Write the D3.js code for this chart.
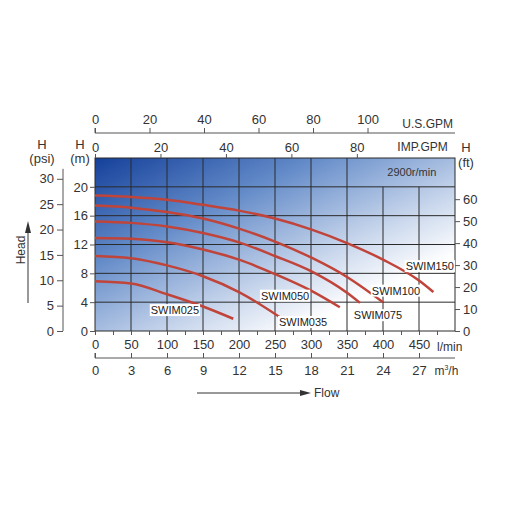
<!DOCTYPE html>
<html><head><meta charset="utf-8">
<script src="https://d3js.org/d3.v7.min.js"></script>
<style>body{margin:0;background:#fff}text{font-family:"Liberation Sans",Arial,sans-serif}</style>
</head><body><svg id="c" width="515" height="515"></svg>
<script>
const flowLpm=[0,50,100,150,200,250,300,350,400,450,470];
const swim025=[[0,6.9],[50,6.6],[100,5.1],[150,3.4],[192,1.7]];
const swim035=[[0,10.4],[50,10.1],[100,9.1],[150,7.6],[200,5.4],[260,1.7]];
const swim050=[[0,12.9],[50,12.8],[100,12.3],[150,11.3],[200,9.9],[250,7.9],[300,5.6],[340,3.3]];
const swim075=[[0,15.2],[50,15.0],[100,14.5],[150,13.6],[200,12.3],[250,10.4],[300,8.3],[350,5.3],[368,3.9]];
const swim100=[[0,17.4],[50,17.1],[100,16.5],[150,15.6],[200,14.2],[250,12.4],[300,10.2],[350,7.5],[400,4.0]];
const swim150=[[0,18.8],[50,18.6],[100,18.2],[150,17.5],[200,16.7],[250,15.6],[300,14.1],[350,12.2],[400,9.9],[450,7.0],[470,5.4]];
const seriesNames=["SWIM025","SWIM035","SWIM050","SWIM075","SWIM100","SWIM150"];
const series=[swim025,swim035,swim050,swim075,swim100,swim150];
const labelPos=[[111,2.9],[289,1.25],[264,4.9],[393,2.2],[418,5.6],[465,9.0]];
const lpmTicks=[0,50,100,150,200,250,300,350,400,450];
const m3hTicks=[0,3,6,9,12,15,18,21,24,27];
const usgpmTicks=[0,20,40,60,80,100];
const impgpmTicks=[0,20,40,60,80];
const mTicks=[0,4,8,12,16,20];
const psiTicks=[0,5,10,15,20,25,30];
const ftTicks=[0,10,20,30,40,50,60];

const svg=d3.select("#c");
const x=d3.scaleLinear().domain([0,500]).range([95,455]);
const y=d3.scaleLinear().domain([0,24]).range([331,158]);
const defs=svg.append("defs");
const g=defs.append("linearGradient").attr("id","bg").attr("x1","0").attr("y1","0").attr("x2","1").attr("y2","1");
g.append("stop").attr("offset","0").attr("stop-color","#14409a");
g.append("stop").attr("offset","0.3").attr("stop-color","#628ac8");
g.append("stop").attr("offset","0.6").attr("stop-color","#c8d6ec");
g.append("stop").attr("offset","0.78").attr("stop-color","#ffffff");
svg.append("rect").attr("x",x(0)).attr("y",y(24)).attr("width",x(500)-x(0)).attr("height",y(0)-y(24)).attr("fill","url(#bg)");
const gl="#2a2a2a";
mTicks.slice(1).forEach(v=>svg.append("line").attr("x1",x(0)).attr("x2",x(500)).attr("y1",y(v)).attr("y2",y(v)).attr("stroke",gl).attr("stroke-width",1));
d3.range(50,500,50).forEach(v=>svg.append("line").attr("x1",x(v)).attr("x2",x(v)).attr("y1",y(0)).attr("y2",v>=400?y(20):y(24)).attr("stroke",gl).attr("stroke-width",1));
svg.append("rect").attr("x",x(0)).attr("y",y(24)).attr("width",x(500)-x(0)).attr("height",y(0)-y(24)).attr("fill","none").attr("stroke",gl);
svg.append("text").attr("x",x(440)).attr("y",y(22)+4).attr("text-anchor","middle").attr("font-size",11).attr("fill","#333").text("2900r/min");
const line=d3.line().x(d=>x(d[0])).y(d=>y(d[1])).curve(d3.curveMonotoneX);
series.forEach(s=>svg.append("path").attr("d",line(s)).attr("fill","none").attr("stroke","#c0443a").attr("stroke-width",2.5));
seriesNames.forEach((n,i)=>{
  const px=x(labelPos[i][0]),py=y(labelPos[i][1]);
  const t=svg.append("text").attr("x",px).attr("y",py+4).attr("text-anchor","middle").attr("font-size",11).attr("fill","#222").text(n);
  const b=t.node().getBBox();
  svg.insert("rect","text:last-child").attr("x",b.x-1).attr("y",b.y).attr("width",b.width+2).attr("height",b.height).attr("fill","#fff");
});
function style(a,fs){a.selectAll("text").attr("font-size",fs).attr("fill","#333").style("font-family","Liberation Sans");a.selectAll("path,line").attr("stroke","#555");}
const ab=svg.append("g").attr("transform",`translate(0,${y(0)})`).call(d3.axisBottom(x).tickValues(d3.range(0,500,25)).tickFormat(d=>lpmTicks.includes(d)?d:"").tickSize(4).tickPadding(5));
ab.select(".domain").remove();style(ab,13);
svg.append("text").attr("x",437).attr("y",y(0)+20).attr("font-size",12).attr("fill","#333").text("l/min");
const xm=d3.scaleLinear().domain([0,30]).range([x(0),x(500)]);
const am=svg.append("g").attr("transform","translate(0,358)").call(d3.axisBottom(xm).tickValues(m3hTicks).tickSize(-5).tickPadding(8).tickSizeOuter(0));
style(am,13);am.select(".domain").attr("d",`M${x(0)},-5V0H${x(500)}`);
const mt=svg.append("text").attr("x",x(488)).attr("y",375).attr("text-anchor","middle").attr("font-size",12).attr("fill","#333");
mt.append("tspan").text("m");mt.append("tspan").attr("dy",-5).attr("font-size",7).text("3");mt.append("tspan").attr("dy",5).text("/h");
svg.append("line").attr("x1",197).attr("x2",303).attr("y1",393).attr("y2",393).attr("stroke","#333");
svg.append("path").attr("d","M300,390L311,393L300,396Z").attr("fill","#333");
svg.append("text").attr("x",314).attr("y",397).attr("font-size",12).attr("fill","#333").text("Flow");
const xu=d3.scaleLinear().domain([0,500/3.785]).range([x(0),x(500)]);
const au=svg.append("g").attr("transform","translate(0,133)").call(d3.axisTop(xu).tickValues(usgpmTicks).tickSize(5).tickPadding(4).tickSizeOuter(0));
style(au,13);au.select(".domain").attr("d",`M${x(0)},-5V0H${x(500)}`);
svg.append("text").attr("x",x(462)).attr("y",128).attr("text-anchor","middle").attr("font-size",12).attr("fill","#333").text("U.S.GPM");
const xi=d3.scaleLinear().domain([0,500/4.546]).range([x(0),x(500)]);
const ai=svg.append("g").attr("transform",`translate(0,${y(24)})`).call(d3.axisTop(xi).tickValues(impgpmTicks).tickSize(4).tickPadding(2));
ai.select(".domain").remove();style(ai,13);
svg.append("text").attr("x",x(455)).attr("y",151).attr("text-anchor","middle").attr("font-size",12).attr("fill","#333").text("IMP.GPM");
const aml=svg.append("g").attr("transform",`translate(${x(0)},0)`).call(d3.axisLeft(y).tickValues(mTicks).tickSize(5).tickPadding(2));
aml.select(".domain").remove();style(aml,13);
const yp=d3.scaleLinear().domain([0,34.1]).range([y(0),y(24)]);
const ap=svg.append("g").attr("transform","translate(63,0)").call(d3.axisLeft(yp).tickValues(psiTicks).tickSize(6).tickPadding(3).tickSizeOuter(0));
style(ap,13);ap.select(".domain").attr("d",`M0,${y(0)}V${y(22.5)}`);
const yf=d3.scaleLinear().domain([0,24*3.281]).range([y(0),y(24)]);
const af=svg.append("g").attr("transform",`translate(${x(500)},0)`).call(d3.axisRight(yf).tickValues(ftTicks).tickSize(5).tickPadding(3));
af.select(".domain").remove();style(af,13);
[[42,"H",149],[42,"(psi)",163],[80,"H",149],[80,"(m)",163],[466,"H",152],[466,"(ft)",167]].forEach(d=>svg.append("text").attr("x",d[0]).attr("y",d[2]).attr("text-anchor","middle").attr("font-size",13).attr("fill","#333").text(d[1]));
svg.append("text").attr("transform","translate(25,250) rotate(-90)").attr("text-anchor","middle").attr("font-size",12).attr("fill","#333").text("Head");
svg.append("line").attr("x1",28).attr("x2",28).attr("y1",303).attr("y2",230).attr("stroke","#333");
svg.append("path").attr("d","M25,233L28,221L31,233Z").attr("fill","#333");
</script></body></html>
